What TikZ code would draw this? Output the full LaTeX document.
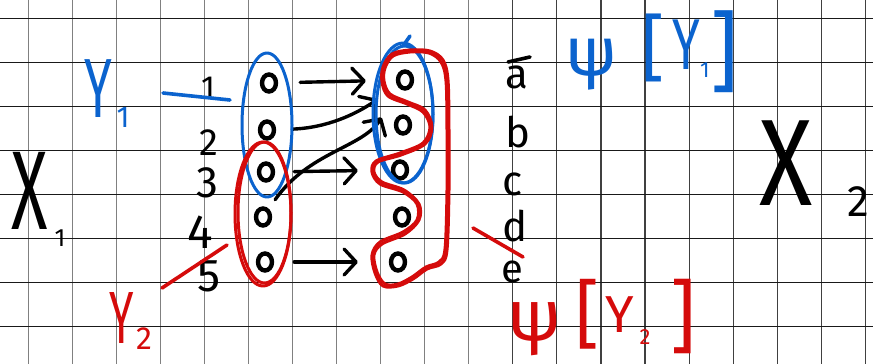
\documentclass[tikz,border=0pt]{standalone}
\usepackage{fontspec}
\usepackage{graphicx}
\newfontfamily\handfont{Fira Sans}
\usetikzlibrary{arrows.meta,shapes.geometric}
\definecolor{penblue}{HTML}{0B63CE}
\definecolor{penred}{HTML}{D50B0B}
\definecolor{gridgray}{HTML}{808080}
\newcommand\penfs[2]{{\fontsize{#1}{#1}\selectfont #2}}

\begin{document}
\begin{tikzpicture}[x=1pt,y=-1pt,
  gridv/.style={line width=1.2pt, draw=gridgray},
  gridvd/.style={line width=1.1pt, draw=black!75},
  gridh/.style={line width=1.3pt, draw=black!90},
  elem/.style={draw=black, ellipse, line width=4.4pt, minimum width=14pt, minimum height=17pt, inner sep=0pt},
  arr/.style={line width=3.4pt, line cap=round, -{Straight Barb[round,length=12pt,width=26pt]}},
  ink/.style={line width=3.6pt, line cap=round, line join=round},
  loop/.style={line width=3pt, line join=round},
  txt/.style={inner sep=0pt, font=\handfont}
]
\useasboundingbox (0,0) rectangle (873,364);
\fill[white] (0,0) rectangle (873,364);

% squared paper
\foreach \k in {0,...,10} \draw[gridv] ({28.3+44.05*\k},0) -- ({28.3+44.05*\k},364);
\foreach \k in {11,...,19} \draw[gridvd] ({28.3+44.05*\k},0) -- ({28.3+44.05*\k},364);
\foreach \k in {0,...,7} \draw[gridh] (0,{18.3+44.05*\k}) -- (873,{18.3+44.05*\k});

% the two sets
\node[txt] (X1) at (30,191) {\scalebox{0.6}[1]{\penfs{112}{X}}};
\node[txt] (X1s) at (60,238) {\penfs{25}{1}};
\node[txt] (X2) at (786,163) {\scalebox{0.8}[1]{\penfs{123}{X}}};
\node[txt] (X2s) at (858,202) {\penfs{44}{2}};

% elements of X_1
\node[elem] (l1) at (269,83) {};
\node[elem] (l2) at (267,130) {};
\node[elem] (l3) at (266,172) {};
\node[elem] (l4) at (263,217) {};
\node[elem] (l5) at (265,262) {};
\node[txt] (n1) at (208,88) {\penfs{32}{1}};
\node[txt] (n2) at (209,143) {\penfs{38}{2}};
\node[txt] (n3) at (207,183) {\penfs{44}{3}};
\node[txt] (n4) at (200,232) {\penfs{48}{4}};
\node[txt] (n5) at (209,276) {\penfs{46}{5}};

% elements of X_2
\node[elem] (r1) at (405,80) {};
\node[elem] (r2) at (403,125) {};
\node[elem] (r3) at (400,170) {};
\node[elem] (r4) at (402,217) {};
\node[elem] (r5) at (398,262) {};
\node[txt] (ca) at (517,77) {\penfs{42}{a}};
\node[txt] (cb) at (518,132) {\penfs{42}{b}};
\node[txt] (cc) at (513,184) {\penfs{42}{c}};
\node[txt] (cd) at (515,226) {\penfs{42}{d}};
\node[txt] (ce) at (512,272) {\penfs{40}{e}};
\draw[ink] (508,62) -- (530,57);

% the map psi
\draw[arr, shorten <=22pt, shorten >=30pt] (l1) -- (r1);
\draw[arr, shorten <=16pt, shorten >=24pt] (l2) to[out=2, in=215] (r1);
\draw[arr, shorten <=11pt, shorten >=34pt] (l4) to[out=55, in=238] (r1);
\draw[arr, shorten <=19pt, shorten >=33pt] (l3) -- (r3);
\draw[arr, shorten <=20pt, shorten >=31pt] (l5) -- (r5);

% Y_1 and its image (blue)
\draw[penblue, loop] (267,125) ellipse [x radius=25pt, y radius=72pt];
\draw[penblue, loop] (403,113) ellipse [x radius=30pt, y radius=70pt];
\draw[penblue, loop] (404.5,114.5) ellipse [x radius=28.5pt, y radius=68.5pt];
\draw[penblue, ink] (403,46) -- (410,36);
\draw[penblue, ink] (163,93) -- (230,100);
\node[txt, text=penblue] (Y1) at (98,89) {\scalebox{0.6}[1]{\penfs{84}{Y}}};
\node[txt, text=penblue] (Y1s) at (123,117) {\penfs{30}{1}};
\node[txt, text=penblue] (psiA) at (592,65) {\penfs{69}{ψ}};
\node[txt, text=penblue] (lbA) at (653,48) {\penfs{73}{[}};
\node[txt, text=penblue] (YA) at (686,45) {\scalebox{0.7}[1]{\penfs{72}{Y}}};
\node[txt, text=penblue] (YAs) at (705,70) {\penfs{22}{1}};
\node[txt, text=penblue] (rbA) at (725,52) {\penfs{88}{]}};

% Y_2 and its image (red)
\draw[penred, loop] (263,214) ellipse [x radius=28pt, y radius=72pt];
\draw[penred, loop] (264.5,212.5) ellipse [x radius=26.5pt, y radius=70.5pt];
\draw[penred, loop] plot[smooth cycle, tension=0.55] coordinates {
  (383,67) (392,54) (410,50) (430,51) (443,60) (448,80) (449,130) (449,190)
  (447,250) (441,264) (427,269) (413,279) (398,286) (383,286) (375,273)
  (372,255) (380,242) (403,232) (417,220) (417,204) (403,192) (380,184)
  (372,172) (376,161) (400,153) (423,143) (430,127) (423,112) (407,104)
  (388,96) (382,82)};
\draw[penred, loop] plot[smooth cycle, tension=0.55] coordinates {
  (385,68) (393,56) (410,52) (429,53) (441,62) (446,81) (447,130) (447,190)
  (445,249) (439,262) (426,267) (412,277) (398,284) (385,284) (377,272)
  (374,255) (382,244) (405,234) (419,220) (419,204) (404,190) (382,182)
  (374,172) (378,162) (401,155) (425,144) (432,127) (425,110) (408,102)
  (390,94) (384,81)};
\draw[penred, ink] (162,288) -- (227,245);
\draw[penred, ink] (473,228) -- (523,257);
\node[txt, text=penred] (Y2) at (122,318) {\scalebox{0.6}[1]{\penfs{74}{Y}}};
\node[txt, text=penred] (Y2s) at (144,339) {\penfs{32}{2}};
\node[txt, text=penred] (psiB) at (535,329) {\penfs{72}{ψ}};
\node[txt, text=penred] (lbB) at (588,314) {\penfs{75}{[}};
\node[txt, text=penred] (YB) at (620,315) {\penfs{52}{Y}};
\node[txt, text=penred] (YBs) at (645,337) {\penfs{22}{2}};
\node[txt, text=penred] (rbB) at (683,316) {\penfs{80}{]}};
\end{tikzpicture}
\end{document}
